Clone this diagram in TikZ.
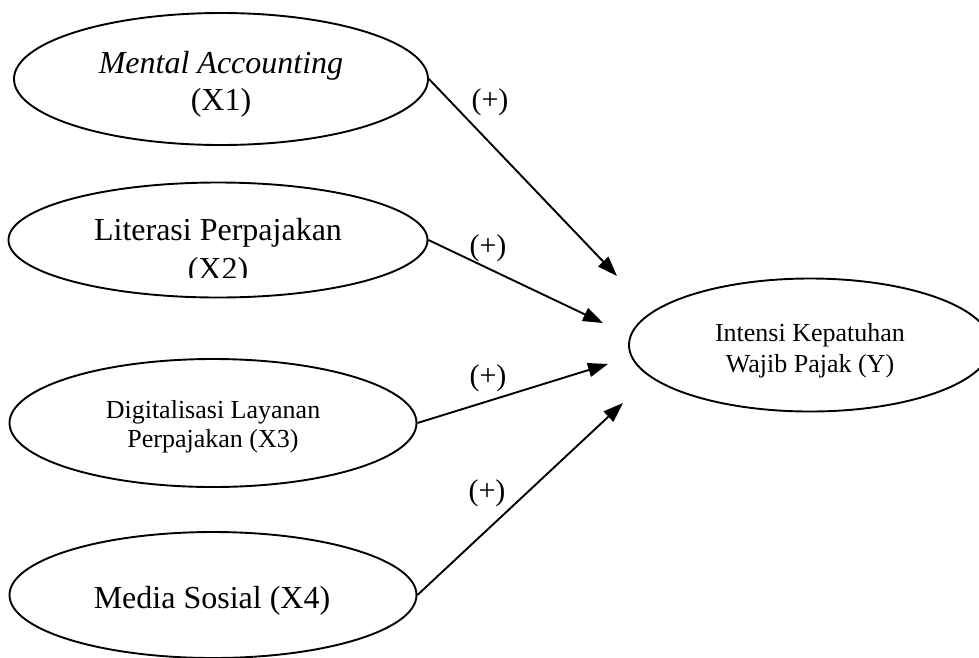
\documentclass[tikz,border=0pt]{standalone}
\usepackage{fontspec}
\setmainfont{Liberation Serif}
\usetikzlibrary{arrows.meta,shapes.geometric}
\tikzset{
  var/.style={draw, ellipse, line width=1.9pt, inner sep=0pt},
  big/.style={font=\fontsize{32}{37}\selectfont, anchor=base, inner sep=0pt},
  small/.style={font=\fontsize{26}{30}\selectfont, anchor=base, inner sep=0pt},
  sign/.style={font=\fontsize{30}{34}\selectfont, inner sep=0pt},
  link/.style={line width=1.9pt, -{Triangle[length=20pt,width=14pt]}}
}
\begin{document}
\begin{tikzpicture}[x=1pt,y=-1pt]
\clip (0,0) rectangle (979,657);
\fill[white] (0,0) rectangle (979,657);

% ellipses
\node[var, minimum width=414pt, minimum height=132pt] (e1) at (221,79) {};
\node[var, minimum width=419pt, minimum height=115pt] (e2) at (218,240) {};
\node[var, minimum width=407pt, minimum height=128pt] (e3) at (213,423) {};
\node[var, minimum width=407pt, minimum height=126pt] (e4) at (213,595) {};
\node[var, minimum width=362pt, minimum height=133pt] (y) at (810,345) {};

% texts
\node[big] (t1a) at (221,73) {\itshape Mental Accounting};
\node[big] (t1b) at (221,110) {(X1)};
\node[big] (t2a) at (218,240) {Literasi Perpajakan};
\begin{scope}
\clip (0,0) rectangle (979,277);
\node[big] (t2b) at (218,279) {(X2)};
\end{scope}
\node[small] (t3a) at (213,418) {Digitalisasi Layanan};
\node[small] (t3b) at (213,447) {Perpajakan (X3)};
\node[big] (t4) at (212,608) {Media Sosial (X4)};
\node[small] (tya) at (810,341) {Intensi Kepatuhan};
\node[small] (tyb) at (810,372) {Wajib Pajak (Y)};

% arrow ends
\coordinate (p1) at (617,276);
\coordinate (p2) at (603,323);
\coordinate (p3) at (608,364);
\coordinate (p4) at (623,403);

\draw[link] (e1.east) -- (p1);
\draw[link] (e2.east) -- (p2);
\draw[link] (e3.east) -- (p3);
\draw[link] (e4.east) -- (p4);

% signs
\node[sign] (s1) at (490,102) {(+)};
\node[sign] (s2) at (488,248) {(+)};
\node[sign] (s3) at (488,378) {(+)};
\node[sign] (s4) at (487,493) {(+)};
\end{tikzpicture}
\end{document}
